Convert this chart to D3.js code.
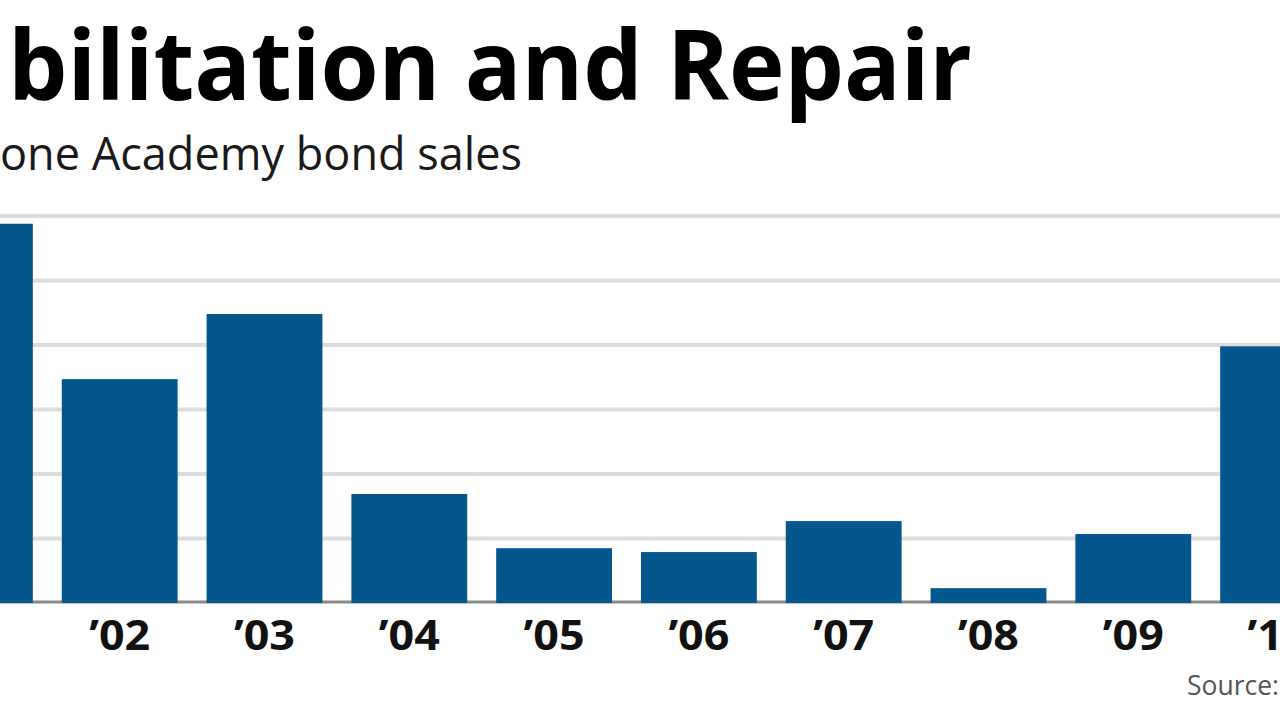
<!DOCTYPE html>
<html>
<head>
<meta charset="utf-8">
<script src="https://cdn.jsdelivr.net/npm/d3@7"></script>
<style>
  html, body { margin: 0; padding: 0; background: #fff; }
  svg { display: block; }
</style>
</head>
<body>
<script>
// ---- data ----
const years = ["’01", "’02", "’03", "’04", "’05", "’06", "’07", "’08", "’09", "’10"];
const sales = [588, 347, 448, 169, 85, 79, 127, 23, 107, 398];
const gridValues = [100, 200, 300, 400, 500, 600];
const visibleTickLabels = ["’02", "’03", "’04", "’05", "’06", "’07", "’08", "’09", "’10"];
const titleText = "bilitation and Repair";
const subtitleText = "one Academy bond sales";
const sourceText = "Source:";

const W = 1280, H = 720;
const svg = d3.select("body").append("svg")
  .attr("width", W).attr("height", H)
  .style("font-family", "'Open Sans', 'Noto Sans', sans-serif");

svg.append("rect").attr("width", W).attr("height", H).attr("fill", "#fff");

const x = d3.scaleBand().domain(years).range([-97.5, 1350.5])
  .paddingInner(0.2).paddingOuter(0.1);
const y = d3.scaleLinear().domain([0, 600]).range([603, 216]);

// gridlines
svg.append("g").selectAll("line").data(gridValues).join("line")
  .attr("x1", 0).attr("x2", W)
  .attr("y1", d => y(d)).attr("y2", d => y(d))
  .attr("stroke", "#dcdcdc").attr("stroke-width", 4);

// baseline
svg.append("line").attr("x1", 0).attr("x2", W)
  .attr("y1", y(0) - 1).attr("y2", y(0) - 1)
  .attr("stroke", "#8a8a8a").attr("stroke-width", 3);

// bars
svg.append("g").selectAll("rect").data(years).join("rect")
  .attr("x", d => x(d))
  .attr("width", x.bandwidth())
  .attr("y", (d, i) => y(sales[i]))
  .attr("height", (d, i) => y(0) - y(sales[i]))
  .attr("fill", "#05568d");

// x axis labels
const xAxis = d3.axisBottom(x).tickValues(visibleTickLabels).tickSize(0).tickPadding(0);
const gx = svg.append("g").attr("transform", `translate(0, 650)`).call(xAxis);
gx.select(".domain").remove();
gx.selectAll("text")
  .attr("dy", 0)
  .attr("y", 0)
  .attr("fill", "#111")
  .style("font-size", "42px")
  .style("font-weight", "700")
  .style("font-family", "'Open Sans', sans-serif")
  .attr("textLength", 61)
  .attr("lengthAdjust", "spacingAndGlyphs");

// title
svg.append("text").attr("x", 8).attr("y", 100)
  .text(titleText)
  .attr("fill", "#000")
  .style("font-size", "97px").style("font-weight", "700")
  .attr("textLength", 964).attr("lengthAdjust", "spacingAndGlyphs");

// subtitle
svg.append("text").attr("x", 0).attr("y", 170)
  .text(subtitleText)
  .attr("fill", "#1a1a1a")
  .style("font-size", "46px").style("font-weight", "400")
  .attr("textLength", 522).attr("lengthAdjust", "spacingAndGlyphs");

// source
svg.append("text").attr("x", 1187).attr("y", 695)
  .text(sourceText)
  .attr("fill", "#555")
  .style("font-size", "28px").style("font-weight", "400")
  .attr("textLength", 92).attr("lengthAdjust", "spacingAndGlyphs");
</script>
</body>
</html>
